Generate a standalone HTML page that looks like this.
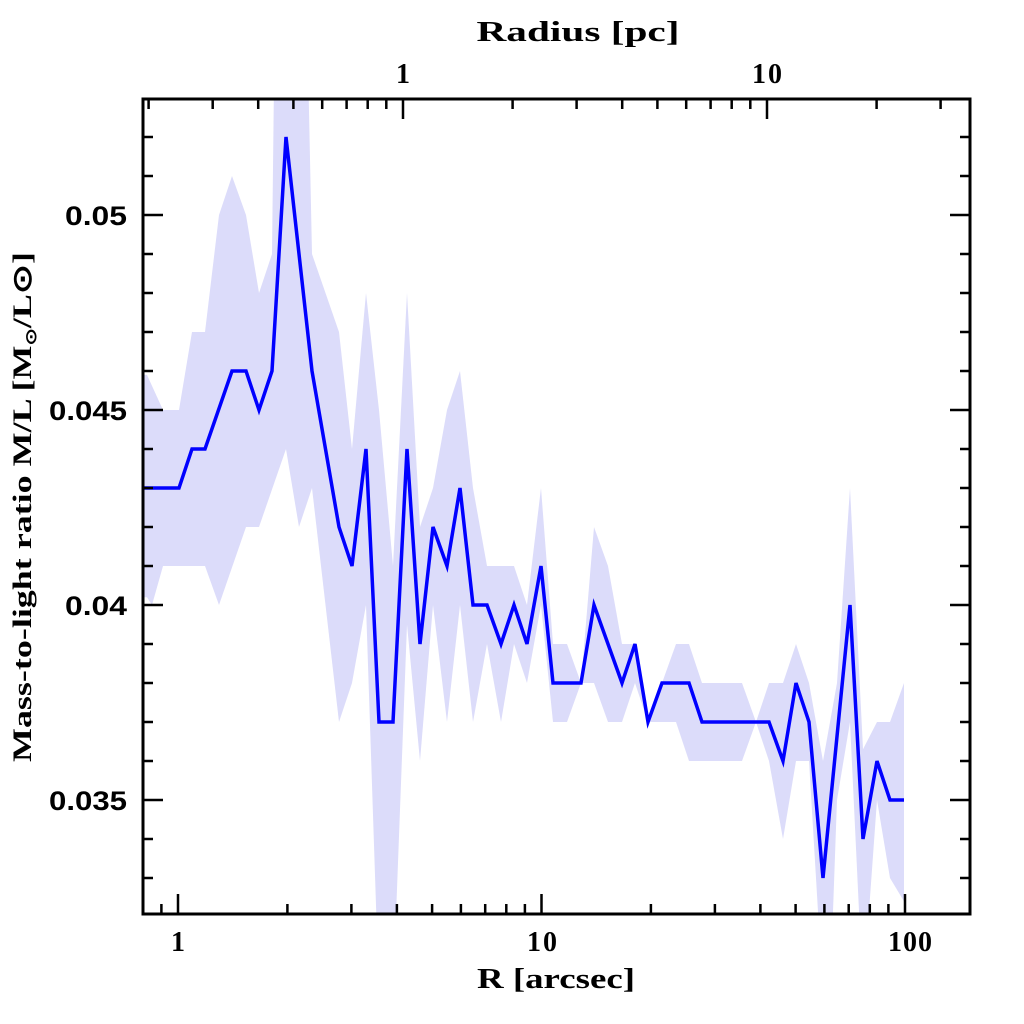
<!DOCTYPE html>
<html><head><meta charset="utf-8"><style>
html,body{margin:0;padding:0;background:#fff;}
svg{display:block;}
.t{font-family:"Liberation Serif",serif;font-weight:bold;font-size:28px;fill:#000;}
.y{font-family:"Liberation Sans",sans-serif;font-weight:bold;font-size:27px;fill:#000;}
</style></head><body>
<svg width="1024" height="1024" viewBox="0 0 1024 1024" xmlns="http://www.w3.org/2000/svg">
<defs><clipPath id="c"><rect x="143" y="99" width="827" height="815"/></clipPath></defs>
<g clip-path="url(#c)">
<g transform="matrix(1,0,0,-39,0,2165)">
<polygon fill="#dcdcfa" stroke="none" points="
143,45.9 147,45.9 163,45 179,45 192,47 205,47 219,50 232,51 246,50 259,48 272,49 277,60 303,60 312,49 339,47 352,44 366,48 379,45 393,41 407,48 420,42 433,43 447,45 460,46 473,43 487,41 501,41 514,41 527,40 541,43 553,39 567,39 581,38 594,42 608,41 622,39 635,39 648,37 662,38 676,39 689,39 702,38 742,38 756,37 769,38 783,38 796,39 809,38 823,36 837,38 850,43 863,36.3 877,37 890,37 904,38
904,32.4 890,33 877,35 863,30 850,37 837,35 830,30 823,30 809,36 796,36 783,34 769,36 756,37 742,36 702,36 689,36 676,37 662,37 648,37 635,38 622,37 608,37 594,38 581,38 567,37 553,37 541,40 527,38 514,39 501,37 487,39 473,37 460,40 447,37 433,40 420,36 407,39.5 393,30 379,30 366,40 352,38 339,37 312,43 299,42 286,44 259,42 246,42 219,40 205,41 179,41 163,41 152,40 147,40.2 143,40.2"/>
<polyline fill="none" stroke="#0000ff" stroke-width="3.5" vector-effect="non-scaling-stroke" stroke-linejoin="miter" points="
143,43 179,43 192,44 205,44 232,46 246,46 259,45 272,46 286,52 312,46 339,42 352,41 366,44 379,37 393,37 407,44 420,39 433,42 447,41 460,43 473,40 487,40 501,39 514,40 527,39 541,41 553,38 581,38 594,40 622,38 635,39 648,37 662,38 689,38 702,37 769,37 783,36 796,38 809,37 823,33 850,40 863,34 877,36 890,35 904,35"/>
</g>
</g>
<g stroke="#000" stroke-width="2.5" fill="none">
<rect x="143" y="99" width="827" height="815" stroke-width="3"/>
<path d="M143,800h20M143,605h20M143,410h20M143,215h20
M143,878h10M143,839h10M143,761h10M143,722h10M143,683h10M143,644h10M143,566h10M143,527h10M143,488h10M143,449h10M143,371h10M143,332h10M143,293h10M143,254h10M143,176h10M143,137h10"/>
<path d="M970,800h-20M970,605h-20M970,410h-20M970,215h-20
M970,878h-10M970,839h-10M970,761h-10M970,722h-10M970,683h-10M970,644h-10M970,566h-10M970,527h-10M970,488h-10M970,449h-10M970,371h-10M970,332h-10M970,293h-10M970,254h-10M970,176h-10M970,137h-10"/>
<path d="M178,914v-20M541.5,914v-20M905,914v-20
M161.4,914v-10M287.4,914v-10M351.4,914v-10M396.9,914v-10M432.1,914v-10M460.9,914v-10M485.2,914v-10M506.3,914v-10M524.9,914v-10
M650.9,914v-10M714.9,914v-10M760.4,914v-10M795.6,914v-10M824.4,914v-10M848.7,914v-10M869.8,914v-10M888.4,914v-10"/>
<path d="M403,99v20M767,99v20
M148.6,99v10M212.7,99v10M258.2,99v10M293.4,99v10M322.2,99v10M346.6,99v10M367.7,99v10M386.3,99v10
M512.6,99v10M576.6,99v10M622.2,99v10M657.4,99v10M686.2,99v10M710.6,99v10M731.7,99v10M750.3,99v10
M876.6,99v10M940.6,99v10"/>
</g>
<g class="y" text-anchor="end">
<text x="127" y="225" textLength="62" lengthAdjust="spacingAndGlyphs">0.05</text>
<text x="127" y="420" textLength="78" lengthAdjust="spacingAndGlyphs">0.045</text>
<text x="127" y="615" textLength="62" lengthAdjust="spacingAndGlyphs">0.04</text>
<text x="127" y="810" textLength="78" lengthAdjust="spacingAndGlyphs">0.035</text>
</g>
<g class="t" text-anchor="middle">
<text x="178" y="951">1</text>
<text x="542" y="951" textLength="30">10</text>
<text x="910" y="951" textLength="44">100</text>
<text x="403" y="83">1</text>
<text x="767" y="83" textLength="30">10</text>
<text x="556" y="988" font-size="29" textLength="158" lengthAdjust="spacingAndGlyphs">R [arcsec]</text>
<text x="578" y="41" font-size="29" textLength="203" lengthAdjust="spacingAndGlyphs">Radius [pc]</text>
<text transform="translate(31,507) rotate(-90)" font-size="26" textLength="510" lengthAdjust="spacingAndGlyphs">Mass-to-light ratio M/L [M<tspan font-size="15" dy="5">⊙</tspan><tspan dy="-5">/L⊙]</tspan></text>
</g>
</svg>
</body></html>
